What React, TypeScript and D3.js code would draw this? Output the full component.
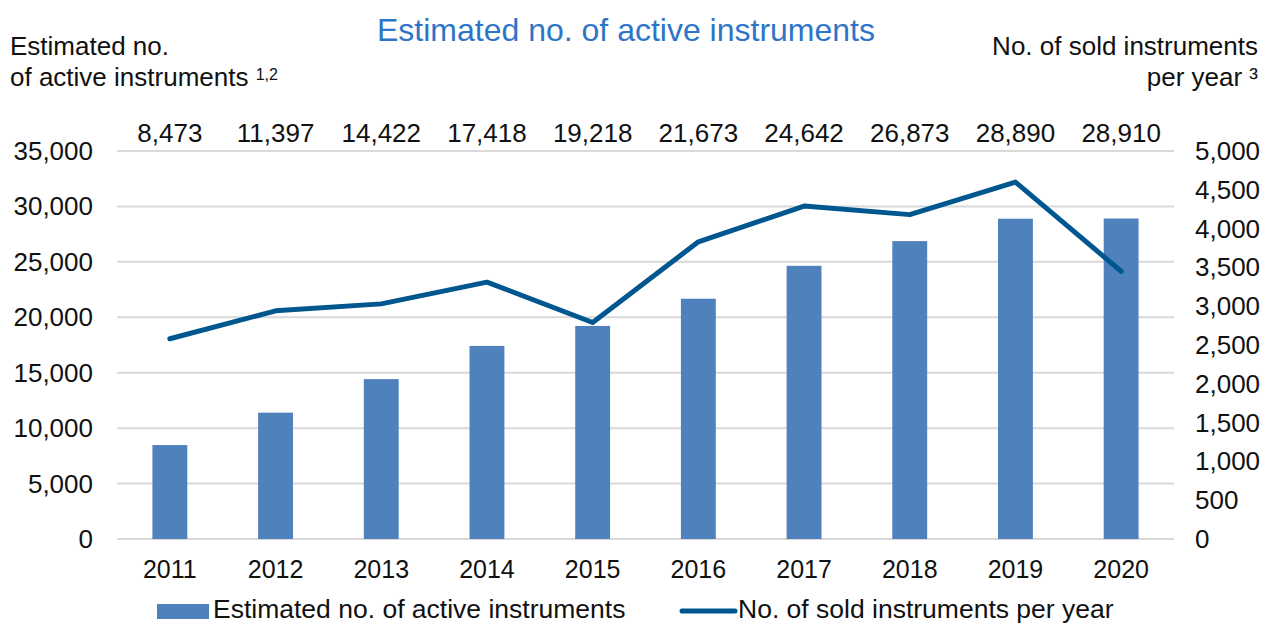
import React from 'react';
import * as d3 from 'd3';

const years = ['2011', '2012', '2013', '2014', '2015', '2016', '2017', '2018', '2019', '2020'];
const activeInstruments = [8473, 11397, 14422, 17418, 19218, 21673, 24642, 26873, 28890, 28910];
const soldPerYear = [2580, 2940, 3030, 3310, 2790, 3830, 4290, 4180, 4600, 3450];
const leftTicks = [0, 5000, 10000, 15000, 20000, 25000, 30000, 35000];
const rightTicks = [0, 500, 1000, 1500, 2000, 2500, 3000, 3500, 4000, 4500, 5000];

const W = 1274;
const H = 625;
const FONT = "'Liberation Sans', Arial, sans-serif";
const BAR = '#4f81bd';
const LINE = '#00578f';

const App: React.FC = () => {
  const x = d3.scaleBand<string>().domain(years).range([117, 1174]).paddingInner(0.67).paddingOuter(0.335);
  const yL = d3.scaleLinear().domain([0, 35000]).range([539, 151]);
  const yR = d3.scaleLinear().domain([0, 5000]).range([539, 151]);
  const fmt = d3.format(',');
  const cx = (d: string) => (x(d) as number) + x.bandwidth() / 2;

  const line = d3.line<number>()
    .x((_, i) => cx(years[i]))
    .y(d => yR(d));

  return (
    <svg width={W} height={H} style={{ position: 'absolute', left: 0, top: 0 }} fontFamily={FONT}>
      <rect width={W} height={H} fill="#fff" />
      <text x={626} y={41} textAnchor="middle" fontSize={32} fill="#2e75c8">Estimated no. of active instruments</text>

      <text x={10} y={55} fontSize={26} fill="#111">Estimated no.</text>
      <text x={10} y={86} fontSize={26} fill="#111">of active instruments <tspan fontSize={16} dy={-6}>1,2</tspan></text>
      <text x={1258} y={55} fontSize={26} fill="#111" textAnchor="end">No. of sold instruments</text>
      <text x={1258} y={86} fontSize={26} fill="#111" textAnchor="end">per year ³</text>

      {leftTicks.map(t => (
        <g key={'g' + t}>
          <line x1={117} x2={1174} y1={yL(t)} y2={yL(t)} stroke="#d9d9d9" strokeWidth={2} />
          <text x={93} y={yL(t) + 9} textAnchor="end" fontSize={26} fill="#111">{fmt(t)}</text>
        </g>
      ))}
      {rightTicks.map(t => (
        <text key={'r' + t} x={1195} y={yR(t) + 9} fontSize={26} fill="#111">{fmt(t)}</text>
      ))}

      {years.map((yr, i) => (
        <g key={yr}>
          <rect x={x(yr)} y={yL(activeInstruments[i])} width={x.bandwidth()} height={539 - yL(activeInstruments[i])} fill={BAR} />
          <text x={cx(yr)} y={142} textAnchor="middle" fontSize={26} fill="#111">{fmt(activeInstruments[i])}</text>
          <text x={cx(yr)} y={578} textAnchor="middle" fontSize={25} fill="#111">{yr}</text>
        </g>
      ))}

      <path d={line(soldPerYear) || ''} fill="none" stroke={LINE} strokeWidth={5} strokeLinejoin="round" strokeLinecap="round" />

      <rect x={157} y={604} width={52} height={15} fill={BAR} />
      <text x={213} y={618} fontSize={26.5} fill="#111">Estimated no. of active instruments</text>
      <line x1={682} x2={735} y1={611} y2={611} stroke={LINE} strokeWidth={5} strokeLinecap="round" />
      <text x={738} y={618} fontSize={26.5} fill="#111">No. of sold instruments per year</text>
    </svg>
  );
};

export default App;
